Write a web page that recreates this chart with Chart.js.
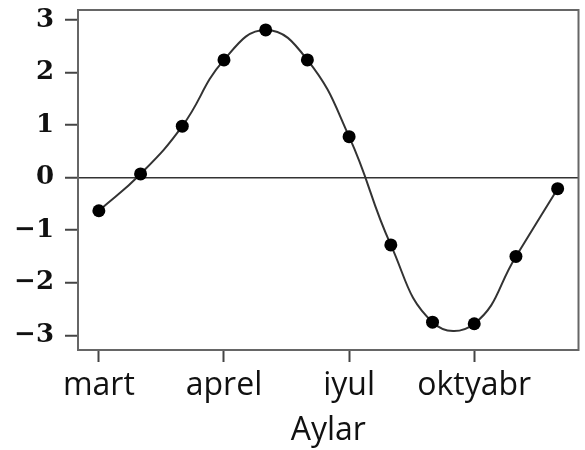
<!DOCTYPE html>
<html>
<head>
<meta charset="utf-8">
<script src="https://cdn.jsdelivr.net/npm/chart.js@4"></script>
<style>
  html, body { margin: 0; padding: 0; background: #fff; }
  #wrap { width: 585px; height: 450px; }
</style>
</head>
<body>
<div id="wrap"><canvas id="graph" width="585" height="450"></canvas></div>
<script>
// -------------------------
// DATA
// -------------------------
const points = ["1", "2", "3", "4", "5", "6", "7", "8", "9", "10", "11", "12"];
const tickLabels = ["mart", "", "", "aprel", "", "", "iyul", "", "", "oktyabr", "", ""];
const values = [-0.63, 0.07, 0.98, 2.24, 2.81, 2.24, 0.78, -1.28, -2.75, -2.78, -1.5, -0.21];
const yTicks = [-3, -2, -1, 0, 1, 2, 3];
const axisTitle = "Aylar";

// frame round the plot area
const framePlugin = {
  id: "frame",
  afterDraw(chart) {
    const a = chart.chartArea;
    const c = chart.ctx;
    c.save();
    c.strokeStyle = "#666";
    c.lineWidth = 2;
    c.strokeRect(a.left, a.top, a.right - a.left, a.bottom - a.top);
    c.restore();
  }
};

let chart;

function initChart() {
  const ctx = document.getElementById("graph").getContext("2d");

  chart = new Chart(ctx, {
    type: "line",
    data: {
      labels: points,
      datasets: [{
        data: values,
        borderColor: "#333",
        borderWidth: 2,
        tension: 0.45,
        pointRadius: 6.5,
        pointBackgroundColor: "#000",
        pointBorderColor: "#000",
        pointBorderWidth: 0,
        fill: false
      }]
    },
    options: {
      responsive: false,
      animation: false,
      layout: { padding: { top: 10, right: 3, left: 0, bottom: 0 } },
      plugins: {
        legend: { display: false },
        tooltip: { enabled: false }
      },
      scales: {
        x: {
          type: "category",
          offset: true,
          afterFit: (s) => {
            s.height = 100;
            s.paddingLeft = 0;
            s.paddingRight = 0;
          },
          border: { display: false },
          grid: {
            drawOnChartArea: false,
            tickLength: 12,
            tickWidth: 2,
            tickColor: (c) => tickLabels[c.index] ? "#444" : "transparent"
          },
          ticks: {
            autoSkip: false,
            maxRotation: 0,
            padding: 5,
            color: "#111",
            font: { family: "Open Sans", size: 32 },
            callback: (v, i) => tickLabels[i]
          },
          title: {
            display: true,
            text: axisTitle,
            color: "#111",
            font: { family: "Open Sans", size: 32 },
            padding: { top: 0, bottom: 0 }
          }
        },
        y: {
          min: -3.28,
          max: 3.19,
          afterBuildTicks: (s) => {
            s.ticks = yTicks.map(v => ({ value: v }));
          },
          afterFit: (s) => {
            s.width = 78;
            s.paddingTop = 0;
            s.paddingBottom = 0;
          },
          border: { display: false },
          grid: {
            tickLength: 13,
            tickWidth: 2,
            lineWidth: 1.5,
            tickColor: "#444",
            color: (c) => c.tick && c.tick.value === 0 ? "#333" : "transparent"
          },
          ticks: {
            padding: 11,
            color: "#111",
            font: { family: "DejaVu Serif", size: 26, weight: "bold" },
            callback: (v) => String(v).replace("-", "\u2212")
          }
        }
      }
    },
    plugins: [framePlugin]
  });
}

initChart();
</script>
</body>
</html>
